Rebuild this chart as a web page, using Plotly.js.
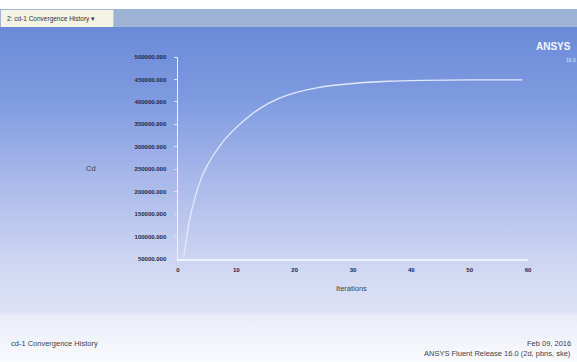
<!DOCTYPE html>
<html>
<head>
<meta charset="utf-8">
<script src="https://cdn.plot.ly/plotly-3.0.1.min.js"></script>
<style>
html,body{margin:0;padding:0;}
#chart{width:577px;height:362px;
background:linear-gradient(to bottom,#ffffff 0px,#ffffff 9px,#9db4d6 9px,#9db4d6 27px,#6a8ad8 27px,#7f9be0 100px,#a9b9ea 180px,#cdd5f1 260px,#dde2f6 312px,#eaedf9 316px,#f9fafe 362px);}
</style>
</head>
<body>
<div id="chart"></div>
<script>
const iterations = [1, 2, 3, 4, 5, 6, 8, 10, 12, 14, 17, 20, 24, 30, 36, 42, 50, 59];
const cdValues = [55000, 138000, 191000, 230000, 258000, 280000, 316000, 343000, 366000, 385000, 406000, 420000, 432000, 441000, 446000, 448000, 449000, 449000];
const xTicks = [0, 10, 20, 30, 40, 50, 60];
const yTicks = [50000, 100000, 150000, 200000, 250000, 300000, 350000, 400000, 450000, 500000];
const yTickText = yTicks.map(v => v.toFixed(3));
const tabTitle = "2: cd-1 Convergence History \u25BE";
const footerLeft = "cd-1 Convergence History";
const footerDate = "Feb 09, 2016";
const footerRelease = "ANSYS Fluent Release 16.0 (2d, pbns, ske)";

const trace = {
  x: iterations, y: cdValues, type: 'scatter', mode: 'lines',
  line: {color: '#e2e9fb', width: 1.3, shape: 'spline', smoothing: 0.8},
  hoverinfo: 'skip'
};

const tickFont = {family: 'Liberation Sans, Arial, sans-serif', size: 6, color: '#1d2748', weight: 'bold'};
const textFont = {family: 'Liberation Sans, Arial, sans-serif', size: 7.5, color: '#3a3f4e'};

const layout = {
  width: 577, height: 362,
  margin: {l: 178, r: 49, t: 57, b: 103},
  paper_bgcolor: 'rgba(0,0,0,0)',
  plot_bgcolor: 'rgba(0,0,0,0)',
  showlegend: false,
  xaxis: {
    range: [0, 60], tickvals: xTicks, ticktext: xTicks.map(String),
    showgrid: false, zeroline: false,
    showline: true, linecolor: '#eef2fc', linewidth: 1.5,
    ticks: '', ticklabelstandoff: 4, tickfont: tickFont
  },
  yaxis: {
    range: [50000, 500000], tickvals: yTicks, ticktext: yTickText,
    showgrid: false, zeroline: false,
    showline: true, linecolor: '#eef2fc', linewidth: 1.5,
    ticks: 'outside', ticklen: 3, tickcolor: '#dbe3f8', tickwidth: 1,
    minor: {ticks: 'outside', ticklen: 2, tickcolor: '#dbe3f8', nticks: 3},
    ticklabelstandoff: 6, tickfont: tickFont
  },
  shapes: [
    {type: 'rect', xref: 'paper', yref: 'paper', x0: -178/352, x1: (113-178)/352, y0: (362-103-27)/202, y1: (362-103-10)/202,
     fillcolor: '#f5f3e4', line: {width: 0}, layer: 'below'}
  ],
  annotations: [
    {text: tabTitle, xref: 'paper', yref: 'paper', x: (4-178)/352, y: (362-103-18.5)/202, xanchor: 'left', yanchor: 'middle', showarrow: false,
     font: {family: 'Liberation Sans, Arial, sans-serif', size: 6.5, color: '#2e3340'}},
    {text: 'Cd', xref: 'paper', yref: 'paper', x: (91-178)/352, y: (259-168)/202, xanchor: 'center', yanchor: 'middle', showarrow: false, font: textFont},
    {text: 'Iterations', xref: 'paper', yref: 'paper', x: (352-178)/352, y: (259-288)/202, xanchor: 'center', yanchor: 'middle', showarrow: false, font: textFont},
    {text: '<b>ANSYS</b>', xref: 'paper', yref: 'paper', x: (575-178)/352, y: (259-47)/202, xanchor: 'right', yanchor: 'middle', showarrow: false,
     font: {family: 'Liberation Sans, Arial, sans-serif', size: 10, color: '#f4f6fd'}},
    {text: '16.0', xref: 'paper', yref: 'paper', x: (566-178)/352, y: (259-60)/202, xanchor: 'left', yanchor: 'middle', showarrow: false,
     font: {family: 'Liberation Sans, Arial, sans-serif', size: 5, color: '#dfe6fa'}},
    {text: footerLeft, xref: 'paper', yref: 'paper', x: (8-178)/352, y: (259-343)/202, xanchor: 'left', yanchor: 'middle', showarrow: false, font: textFont},
    {text: footerDate, xref: 'paper', yref: 'paper', x: (575-178)/352, y: (259-343)/202, xanchor: 'right', yanchor: 'middle', showarrow: false, font: textFont},
    {text: footerRelease, xref: 'paper', yref: 'paper', x: (575-178)/352, y: (259-353)/202, xanchor: 'right', yanchor: 'middle', showarrow: false, font: textFont}
  ]
};

Plotly.newPlot('chart', [trace], layout, {displayModeBar: false, staticPlot: true});
</script>
</body>
</html>
